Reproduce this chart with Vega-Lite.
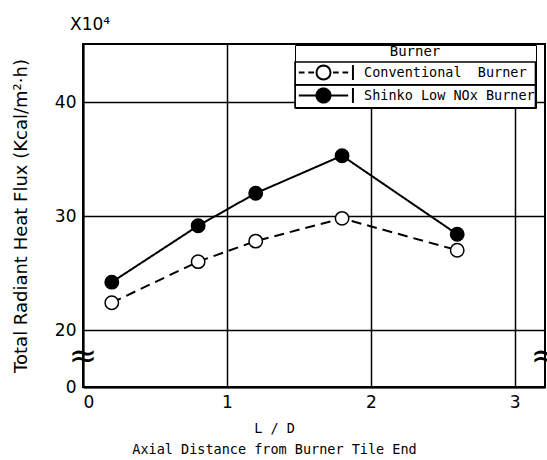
{
  "$schema": "https://vega.github.io/schema/vega-lite/v6.json",
  "width": 462,
  "height": 343,
  "autosize": {"type": "none"},
  "padding": {"left": 83, "top": 44, "right": 2, "bottom": 73},
  "background": "white",
  "title": {"text": "X10⁴", "anchor": "start", "frame": "group", "dx": -13, "offset": 10, "fontSize": 17, "fontWeight": "normal", "font": "DejaVu Sans", "color": "black"},
  "datasets": {
    "flux": [
      {"LD": 0.2, "flux": 22.4, "burner": "Conventional Burner"},
      {"LD": 0.8, "flux": 26.0, "burner": "Conventional Burner"},
      {"LD": 1.2, "flux": 27.8, "burner": "Conventional Burner"},
      {"LD": 1.8, "flux": 29.8, "burner": "Conventional Burner"},
      {"LD": 2.6, "flux": 27.0, "burner": "Conventional Burner"},
      {"LD": 0.2, "flux": 24.2, "burner": "Shinko Low NOx Burner"},
      {"LD": 0.8, "flux": 29.15, "burner": "Shinko Low NOx Burner"},
      {"LD": 1.2, "flux": 32.0, "burner": "Shinko Low NOx Burner"},
      {"LD": 1.8, "flux": 35.3, "burner": "Shinko Low NOx Burner"},
      {"LD": 2.6, "flux": 28.4, "burner": "Shinko Low NOx Burner"}
    ],
    "breaks": [
      {"LD": 0, "flux": 17.6},
      {"LD": 3.21, "flux": 17.6}
    ]
  },
  "layer": [
    {
      "data": {"name": "flux"},
      "mark": {"type": "line", "color": "black", "strokeWidth": 2},
      "encoding": {
        "x": {
          "field": "LD", "type": "quantitative",
          "scale": {"domain": [0, 3.21], "nice": false, "zero": false},
          "axis": {
            "values": [0, 1, 2, 3], "format": "d",
            "grid": true, "gridColor": "black", "gridWidth": 1.5, "gridOpacity": 1,
            "domainColor": "black", "domainWidth": 2, "ticks": false,
            "labelFontSize": 17, "labelColor": "black", "labelPadding": 7, "labelFont": "DejaVu Sans",
            "title": ["\u00a0\u00a0\u00a0\u00a0\u00a0\u00a0\u00a0L / D", "Axial Distance from Burner Tile End"],
            "titleFont": "DejaVu Sans Mono", "titleFontSize": 13.5, "titleFontWeight": "normal", "titleColor": "black",
            "titleLineHeight": 21, "titleX": 191, "titleY": 34, "titleBaseline": "top", "titleAlign": "center"
          }
        },
        "y": {
          "field": "flux", "type": "quantitative",
          "scale": {"domain": [15, 45.1], "nice": false, "zero": false},
          "axis": {
            "values": [15, 20, 30, 40],
            "labelExpr": "datum.value == 15 ? '0' : datum.label",
            "grid": true, "gridColor": "black", "gridWidth": 1.5, "gridOpacity": 1,
            "domainColor": "black", "domainWidth": 2, "ticks": false,
            "labelFontSize": 17, "labelColor": "black", "labelPadding": 7, "labelFont": "DejaVu Sans",
            "title": "Total Radiant Heat Flux (Kcal/m²·h)",
            "titleFont": "DejaVu Sans", "titleFontSize": 18, "titleFontWeight": "normal", "titleColor": "black",
            "titleX": -62, "titleY": 171.5, "titleAngle": -90, "titleBaseline": "middle", "titleAlign": "center"
          }
        },
        "strokeDash": {
          "field": "burner", "type": "nominal",
          "scale": {"domain": ["Conventional Burner", "Shinko Low NOx Burner"], "range": [[10, 6], [1, 0]]},
          "legend": {
            "title": "\u00a0\u00a0\u00a0Burner",
            "rowPadding": -10,
            "labelExpr": "datum.label === 'Conventional Burner' ? 'Conventional\u00a0\u00a0Burner' : datum.label",
            "encode": {
              "symbols": {"update": {
                "shape": {"signal": "datum.value === 'Conventional Burner' ? 'M-2.6,0H-2.0M-1.6,0H-1.0M1.0,0H1.6M2.0,0H2.6M0.74,0A0.74,0.74 0 0,1 0.523,0.523M0.523,0.523A0.74,0.74 0 0,1 0,0.74M0,0.74A0.74,0.74 0 0,1 -0.523,0.523M-0.523,0.523A0.74,0.74 0 0,1 -0.74,0M-0.74,0A0.74,0.74 0 0,1 -0.523,-0.523M-0.523,-0.523A0.74,0.74 0 0,1 0,-0.74M0,-0.74A0.74,0.74 0 0,1 0.523,-0.523M0.523,-0.523A0.74,0.74 0 0,1 0.74,0M3.1,-0.8V0M3.1,0V0.8' : 'M-2.6,0H-0.74M0.74,0H2.6M-0.74,0A0.74,0.74 0 1,0 0.74,0A0.74,0.74 0 1,0 -0.74,0M3.1,-0.8V0.8'"},
                "strokeDash": {"value": [1, 0]}
              }},
              "entries": {"update": {"stroke": {"value": "black"}, "strokeWidth": {"value": 1.5}, "width": {"value": 250}, "height": {"value": 22}}}
            }
          }
        }
      }
    },
    {
      "data": {"name": "flux"},
      "mark": {"type": "point", "shape": "circle", "filled": true, "size": 180, "stroke": "black", "strokeWidth": 1.5, "opacity": 1},
      "encoding": {
        "x": {"field": "LD", "type": "quantitative"},
        "y": {"field": "flux", "type": "quantitative"},
        "fill": {
          "field": "burner", "type": "nominal",
          "scale": {"domain": ["Conventional Burner", "Shinko Low NOx Burner"], "range": ["white", "black"]},
          "legend": {
            "title": "\u00a0\u00a0\u00a0Burner",
            "rowPadding": -10,
            "labelExpr": "datum.label === 'Conventional Burner' ? 'Conventional\u00a0\u00a0Burner' : datum.label",
            "encode": {
              "symbols": {"update": {
                "shape": {"signal": "datum.value === 'Conventional Burner' ? 'M-2.6,0H-2.0M-1.6,0H-1.0M1.0,0H1.6M2.0,0H2.6M0.74,0A0.74,0.74 0 0,1 0.523,0.523M0.523,0.523A0.74,0.74 0 0,1 0,0.74M0,0.74A0.74,0.74 0 0,1 -0.523,0.523M-0.523,0.523A0.74,0.74 0 0,1 -0.74,0M-0.74,0A0.74,0.74 0 0,1 -0.523,-0.523M-0.523,-0.523A0.74,0.74 0 0,1 0,-0.74M0,-0.74A0.74,0.74 0 0,1 0.523,-0.523M0.523,-0.523A0.74,0.74 0 0,1 0.74,0M3.1,-0.8V0M3.1,0V0.8' : 'M-2.6,0H-0.74M0.74,0H2.6M-0.74,0A0.74,0.74 0 1,0 0.74,0A0.74,0.74 0 1,0 -0.74,0M3.1,-0.8V0.8'"},
                "strokeDash": {"value": [1, 0]}
              }},
              "entries": {"update": {"stroke": {"value": "black"}, "strokeWidth": {"value": 1.5}, "width": {"value": 250}, "height": {"value": 22}}}
            }
          }
        }
      }
    },
    {
      "data": {"name": "breaks"},
      "mark": {"type": "text", "text": "≈", "fontSize": 34, "baseline": "middle", "align": "center", "color": "black", "font": "DejaVu Sans"},
      "encoding": {
        "x": {"field": "LD", "type": "quantitative"},
        "y": {"field": "flux", "type": "quantitative"}
      }
    }
  ],
  "config": {
    "view": {"stroke": "black", "strokeWidth": 2},
    "font": "DejaVu Sans",
    "legend": {
      "orient": "none", "legendX": 212, "legendY": 1, "padding": 0,
      "strokeColor": "black", "fillColor": "white",
      "titleFont": "DejaVu Sans Mono", "titleFontSize": 14, "titleFontWeight": "normal", "titleAnchor": "middle", "titlePadding": 3, "titleColor": "black",
      "labelFont": "DejaVu Sans Mono", "labelFontSize": 13.5, "labelColor": "black", "labelOffset": 30, "labelLimit": 300,
      "symbolSize": 361, "symbolOffset": 18, "symbolStrokeColor": "black", "symbolStrokeWidth": 2, "symbolOpacity": 1, "rowPadding": -10
    }
  }
}
